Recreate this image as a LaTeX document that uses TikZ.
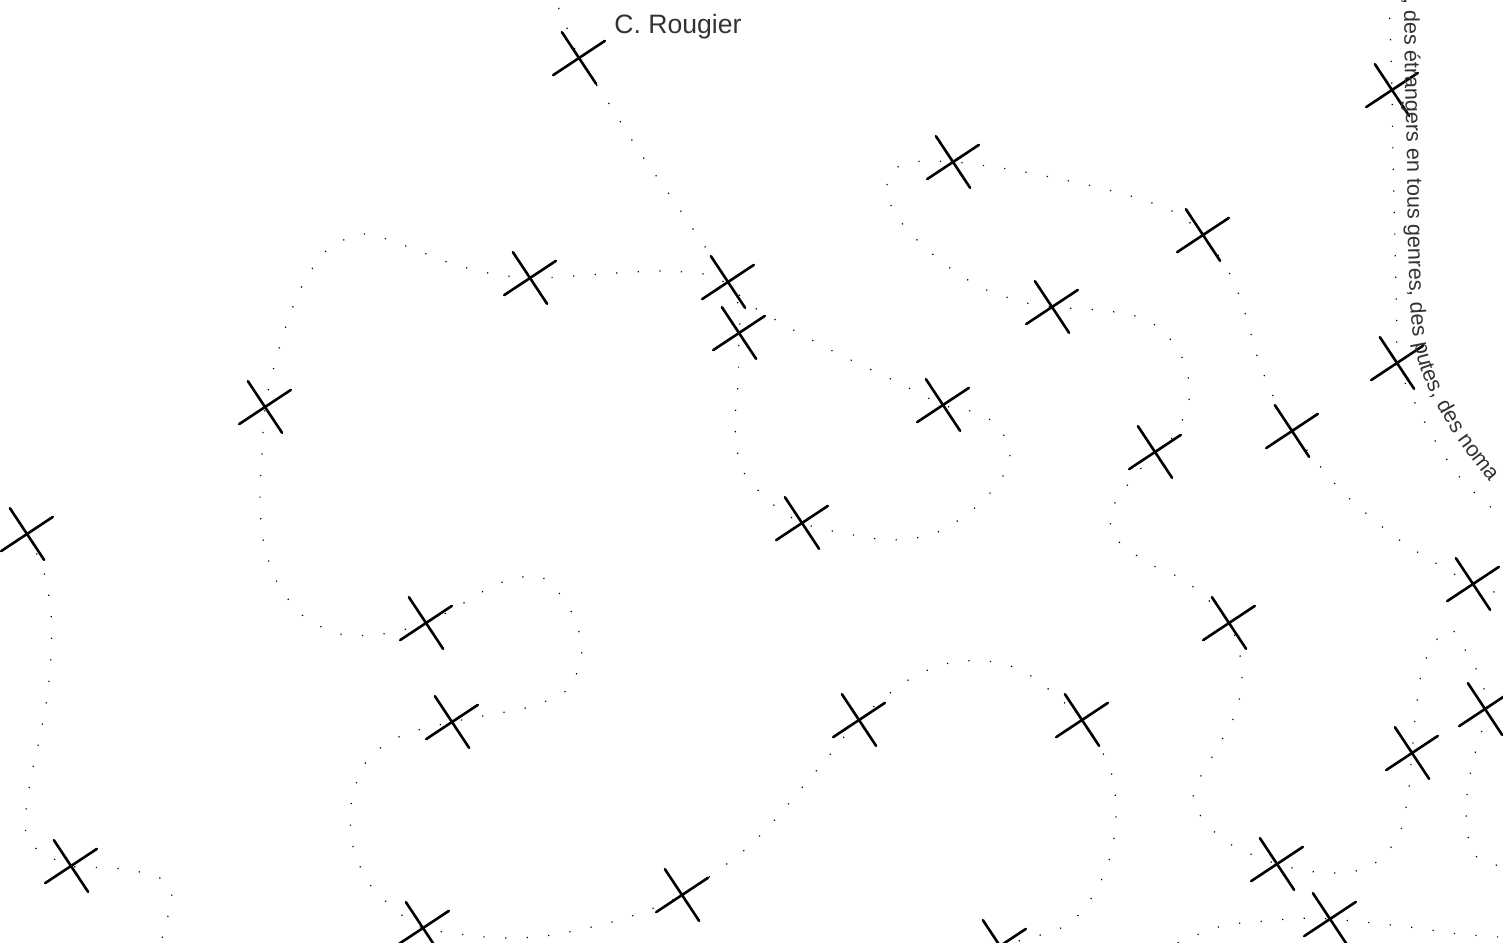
\documentclass[tikz,border=0pt]{standalone}
\usepackage{fontspec}
\setmainfont{Liberation Sans}
\usetikzlibrary{shapes.misc,decorations.text}
\definecolor{ink}{RGB}{51,51,51}
\newcommand{\trailfont}{\fontsize{10.8}{13}\selectfont}

\begin{document}
\begin{tikzpicture}[x=0.5pt, y=-0.5pt,
  xmark/.style={cross out, draw=black, line width=1.3pt, line cap=round,
                minimum size=21.9pt, inner sep=0pt, outer sep=0pt, rotate=-11.5},
  trail/.style={draw=black, line width=0.6pt, dash pattern=on 0.6pt off 10.2pt}]
  \useasboundingbox (0,0) rectangle (1503,942);
  \clip (0,0) rectangle (1503,942);

  % crosses
  \node[xmark] (a) at (579,58) {};
  \node[xmark] (b) at (953,162) {};
  \node[xmark] (c) at (1392,90) {};
  \node[xmark] (d) at (1203,235) {};
  \node[xmark] (e) at (530,278) {};
  \node[xmark] (f) at (728,282) {};
  \node[xmark] (g) at (739,333) {};
  \node[xmark] (h) at (1052,307) {};
  \node[xmark] (i) at (265,407) {};
  \node[xmark] (j) at (943,405) {};
  \node[xmark] (k) at (1397,363) {};
  \node[xmark] (l) at (1292,431) {};
  \node[xmark] (m) at (1155,452) {};
  \node[xmark] (n) at (27,534) {};
  \node[xmark] (o) at (802,523) {};
  \node[xmark] (p) at (1473,584) {};
  \node[xmark] (q) at (426,623) {};
  \node[xmark] (r) at (1229,623) {};
  \node[xmark] (s) at (452,722) {};
  \node[xmark] (t) at (859,720) {};
  \node[xmark] (u) at (1082,720) {};
  \node[xmark] (v) at (1485,709) {};
  \node[xmark] (w) at (1412,753) {};
  \node[xmark] (x) at (71,866) {};
  \node[xmark] (y) at (682,895) {};
  \node[xmark] (z) at (1277,864) {};
  \node[xmark] (aa) at (423,928) {};
  \node[xmark] (ab) at (1330,919) {};
  \node[xmark] (ac) at (1000,946) {};

  \node[anchor=base west, inner sep=0pt, text=ink, font=\fontsize{13.3}{16}\selectfont] (sig) at (614,33) {C. Rougier};

  % free ends at the border
  \coordinate (top1) at (550,-12);
  \coordinate (bot1) at (960,956);
  \coordinate (east1) at (1515,599);
  \coordinate (east2) at (1515,870);
  \coordinate (bot2) at (158,952);
  \coordinate (top2) at (1389,-4);
  \coordinate (east3) at (1522,531);
  \coordinate (bot3) at (1158,952);
  \coordinate (east4) at (1515,938);

  % long trail
  \draw[trail] plot[smooth] coordinates {(top1) (565,23) (a.center) (606,99) (641,154) (678,207) (f.center) (740,312) (g.center)
    (738,383) (735,426) (742,469) (769,501) (o.center) (848,534) (891,540) (933,534) (970,512) (1000,481) (1010,452)
    (996,424) (970,411) (j.center) (897,382) (857,363) (819,344) (781,323) (752,306) (724,282) (704,274) (661,271)
    (617,273) (574,276) (e.center) (488,273) (447,262) (406,246) (364,234) (327,250) (302,286) (286,326) (274,367)
    (i.center) (262,453) (260,496) (263,539) (276,580) (302,615) (340,634) (382,634) (q.center) (462,604) (500,583)
    (541,577) (570,609) (582,650) (568,689) (529,707) (488,715) (s.center) (403,735) (368,759) (352,799) (352,842)
    (368,882) (398,912) (aa.center) (459,934) (501,938) (545,936) (587,928) (629,917) (y.center) (741,853) (772,823)
    (800,790) (828,757) (t.center) (905,682) (945,664) (987,661) (1028,674) (u.center) (1110,769) (1116,811)
    (1111,854) (1094,894) (1065,926) (ac.center) (bot1)};

  % right trail
  \draw[trail] plot[smooth] coordinates {(east1) (p.center) (1439,565) (1402,542) (1368,515) (1337,486) (l.center)
    (1274,398) (1258,359) (1246,316) (1231,276) (d.center) (1174,212) (1134,197) (1092,186) (1050,177) (1008,169)
    (965,163) (b.center) (922,161) (896,168) (887,185) (893,210) (913,236) (946,265) (982,288) (1023,302) (h.center)
    (1108,311) (1149,321) (1179,351) (1190,393) (1176,433) (m.center) (1119,496) (1111,516) (1114,537) (1148,563)
    (1187,582) (r.center) (1242,670) (1236,712) (1216,750) (1195,788) (1196,809) (1225,841) (z.center) (1327,873)
    (1369,867) (1398,837) (1408,795) (w.center) (1416,710) (1423,666) (1440,635) (1452,630) (1461,643) (1482,681)
    (v.center) (1484,723) (1472,765) (1466,808) (1471,850) (1487,862) (east2)};

  \draw[trail] plot[smooth] coordinates {(n.center) (43,569) (51,612) (51,655) (47,698) (39,741) (30,783) (25,825)
    (33,846) (x.center) (114,868) (156,876) (171,891) (169,912) (bot2)};

  \draw[trail] plot[smooth] coordinates {(bot3) (1182,941) (1222,926) (1265,921) (1308,918) (ab.center) (1373,923)
    (1417,928) (1459,934) (east4)};

  % text trail
  \draw[trail] plot[smooth] coordinates {(top2) (c.center) (1393,157) (1395,250) (1397,331) (k.center) (1416,405)
    (1437,444) (1462,480) (1494,510) (east3)};
  \path[postaction={decorate, decoration={text along path, text align=left, text color=ink,
    text={|\trailfont|, des étrangers en tous genres, des putes, des noma}}}]
    plot[smooth] coordinates {(1404,-2) (1405,80) (1407,160) (1408,240) (1410,300) (1413,335) (1420,368)
    (1434,400) (1455,436) (1483,474) (1510,506) (1545,545) (1580,580)};
\end{tikzpicture}
\end{document}
